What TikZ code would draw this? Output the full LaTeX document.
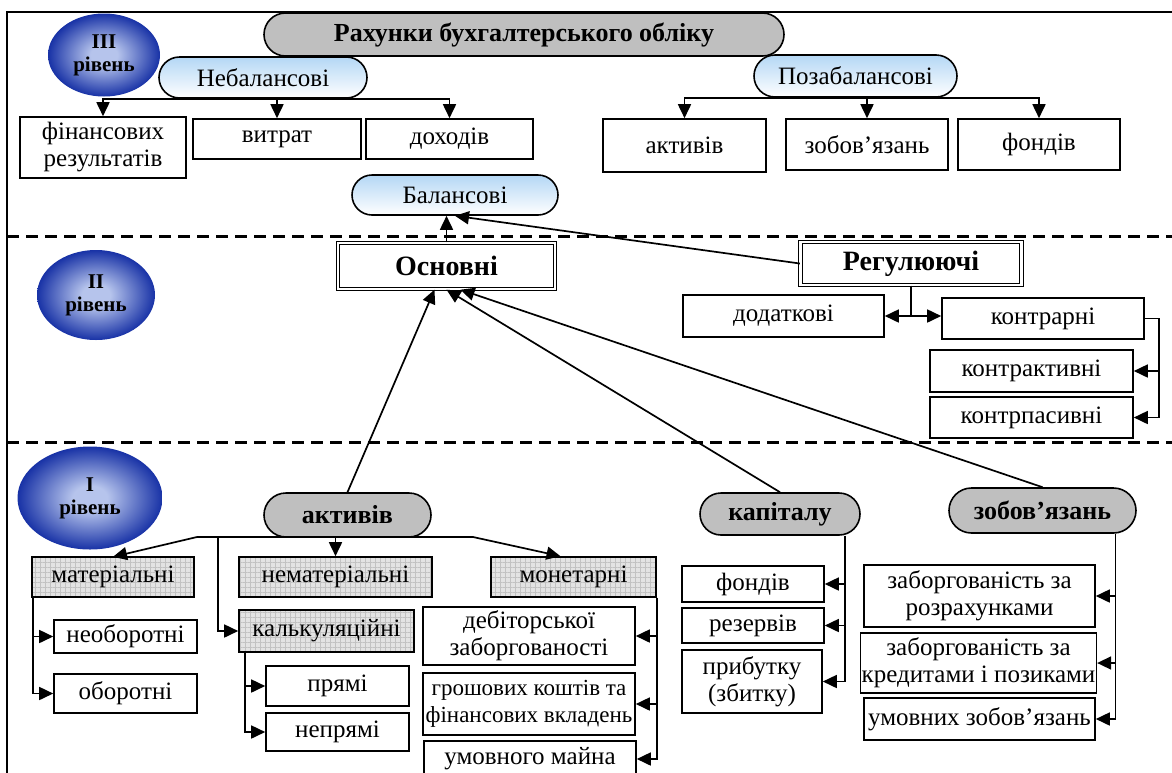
\documentclass[tikz,border=0pt]{standalone}
\usepackage{fontspec}
\setmainfont{Liberation Serif}
\usetikzlibrary{arrows.meta, shapes.misc, shapes.geometric, patterns.meta}

\definecolor{levelin}{RGB}{182,196,236}
\definecolor{levelout}{RGB}{24,50,166}
\definecolor{pillblue}{RGB}{180,215,245}
\pgfdeclareradialshading{levelshade}{\pgfpoint{0bp}{0bp}}{color(0bp)=(levelin); color(6bp)=(levelin); color(25bp)=(levelout); color(50bp)=(levelout)}

\begin{document}
\begin{tikzpicture}[x=1pt, y=-1pt,
    cell/.style={draw, line width=1.6pt, inner sep=1pt, align=center, font=\fontsize{25}{27}\selectfont},
    box/.style={cell, fill=white},
    gridbox/.style={cell, preaction={fill=black!11}, pattern={Hatch[angle=0, distance=5pt, line width=0.4pt]}, pattern color=black!24},
    pill/.style={rounded rectangle, draw, line width=1.6pt, inner sep=1pt},
    graypill/.style={pill, fill=black!25, font=\fontsize{26}{28}\selectfont\bfseries},
    bluepill/.style={pill, top color=pillblue, bottom color=white, font=\fontsize{25}{27}\selectfont},
    dblbox/.style={draw, double, double distance=2.2pt, line width=1.3pt, fill=white, font=\fontsize{28}{30}\selectfont\bfseries},
    level/.style={ellipse, inner sep=0pt, shading=levelshade, align=center, font=\fontsize{21}{23}\selectfont\bfseries},
    link/.style={line width=1.7pt},
    arr/.style={link, -{Triangle[length=14pt, width=13pt]}},
    sep/.style={line width=3pt, dash pattern=on 12pt off 7pt},
]
\path[use as bounding box, clip] (0,0) rectangle (1172,772);

% Frame
\draw[line width=1.6pt] (1180,12) -- (7,12) -- (7,790);

% --- LEVEL III ---
\node[graypill, minimum width=522, minimum height=43] (rahunky) at (524,34.5) {Рахунки бухгалтерського обліку};
\node[bluepill, minimum width=210, minimum height=41] (nebal) at (263,77.5) {Небалансові};
\node[bluepill, minimum width=205, minimum height=42] (pozabal) at (855.5,76) {Позабалансові};
\node[level, minimum width=112, minimum height=83] (lev3) at (104,55) {III\\рівень};

\node[box, minimum width=166, minimum height=61] (finres) at (103,147.5) {фінансових\\результатів};
\node[box, minimum width=168, minimum height=40] (vytrat) at (277,139) {витрат};
\node[box, minimum width=167, minimum height=40] (dokhod) at (449.5,139) {доходів};
\node[box, minimum width=163, minimum height=53] (aktpoz) at (684.5,145.5) {активів};
\node[box, minimum width=162, minimum height=51] (zobpoz) at (867,144.5) {зобов’язань};
\node[box, minimum width=162, minimum height=51] (fondpoz) at (1039,144.5) {фондів};
\node[bluepill, minimum width=208, minimum height=40] (balans) at (455,195) {Балансові};

\draw[arr] (nebal.south) -| (finres.north);
\draw[arr] (nebal.south) -| (vytrat.north);
\draw[arr] (nebal.south) -| (dokhod.north);
\draw[arr] (pozabal.south) -| (aktpoz.north);
\draw[arr] (pozabal.south) -| (zobpoz.north);
\draw[arr] (pozabal.south) -| (fondpoz.north);

\draw[sep] (7,236) -- (1172,236);

% --- LEVEL II ---
\node[level, minimum width=118, minimum height=90] (lev2) at (96,295) {II\\рівень};
\node[dblbox, minimum width=217, minimum height=46] (osnov) at (446.5,266) {Основні};
\node[dblbox, minimum width=221, minimum height=43] (regul) at (911,263.5) {Регулюючі};
\node[box, minimum width=201, minimum height=42] (dodatk) at (783.5,316) {додаткові};
\node[box, minimum width=202, minimum height=41] (kontrar) at (1043,318.5) {контрарні};
\node[box, minimum width=203, minimum height=42] (kontrakt) at (1031.5,371) {контрактивні};
\node[box, minimum width=203, minimum height=41] (kontrpas) at (1031.5,417.5) {контрпасивні};

\draw[arr] (osnov.north) -- (osnov.north |- balans.south);
\draw[arr] (regul.west) -- (balans.south);
\draw[link] (regul.south) -- (regul.south |- dodatk.east);
\draw[link, {Triangle[length=14pt, width=13pt]}-{Triangle[length=14pt, width=13pt]}] (dodatk.east) -- (kontrar.west |- dodatk.east);
\draw[arr] (kontrar.east) -- ++(14,0) |- (kontrakt.east);
\draw[arr] (kontrar.east) -- ++(14,0) |- (kontrpas.east);

\draw[sep] (7,442) -- (1172,442);

% --- LEVEL I ---
\node[level, minimum width=145, minimum height=103] (lev1) at (90,498) {I\\рівень};
\node[graypill, minimum width=169, minimum height=44] (aktyv) at (347.5,515) {активів};
\node[graypill, minimum width=162, minimum height=42] (kapital) at (780,514) {капіталу};
\node[graypill, minimum width=189, minimum height=45] (zobov) at (1042.5,510.5) {зобов’язань};

\draw[arr] (aktyv.north) -- ([xshift=-12]osnov.south);
\draw[arr] (kapital.north) -- (osnov.south);
\draw[arr] (zobov.north) -- ([xshift=14]osnov.south);

% assets
\node[gridbox, minimum width=162, minimum height=40] (matr) at (113,577) {матеріальні};
\node[gridbox, minimum width=193, minimum height=40] (nemat) at (335.5,577) {нематеріальні};
\node[gridbox, minimum width=165, minimum height=40] (monet) at (573.5,577) {монетарні};
\node[gridbox, minimum width=175, minimum height=42] (kalk) at (326.5,631) {калькуляційні};
\node[box, minimum width=143, minimum height=33] (neob) at (125.5,636.5) {необоротні};
\node[box, minimum width=143, minimum height=39] (obor) at (125.5,693.5) {оборотні};
\node[box, minimum width=143, minimum height=40] (pryami) at (337.5,686) {прямі};
\node[box, minimum width=143, minimum height=38] (nepryami) at (337.5,732) {непрямі};
\node[box, minimum width=212, minimum height=58] (debit) at (529,636) {дебіторської\\заборгованості};
\node[box, minimum width=212, minimum height=62, font=\fontsize{23}{27}\selectfont] (groshi) at (529,704) {грошових коштів та\\фінансових вкладень};
\node[box, minimum width=212, minimum height=36] (umovm) at (530,759) {умовного майна};

\coordinate (aL) at (197,537);
\coordinate (aK) at (218,537);
\coordinate (aR) at (473,537);
\draw[link] (aL) -- (aR);
\draw[arr] (aL) -- (matr.north);
\draw[arr] (aR) -- ([xshift=-13]monet.north);
\draw[arr] (aktyv.south -| nemat.north) -- (nemat.north);
\draw[arr] (aK) |- (kalk.west);
\draw[arr] ([xshift=1]matr.south west) |- (neob.west);
\draw[arr] ([xshift=1]matr.south west) |- (obor.west);
\draw[arr] ([xshift=7]kalk.south west) |- (pryami.west);
\draw[arr] ([xshift=7]kalk.south west) |- (nepryami.west);
\draw[arr] (monet.south east) |- (debit.east);
\draw[arr] (monet.south east) |- (groshi.east);
\draw[arr] (monet.south east) |- (umovm.east);

% capital
\node[box, minimum width=142, minimum height=36] (fond2) at (753,584) {фондів};
\node[box, minimum width=142, minimum height=35] (rezerv) at (753,625.5) {резервів};
\node[box, minimum width=140, minimum height=63] (prybut) at (752,681.5) {прибутку\\(збитку)};
\coordinate (kB) at ([xshift=65]kapital.south);
\draw[arr] (kB) |- (fond2.east);
\draw[arr] (kB) |- (rezerv.east);
\draw[arr] (kB) |- (prybut.east);

% liabilities
\node[box, minimum width=231, minimum height=62] (zrozr) at (979.5,596) {заборгованість за\\розрахунками};
\node[box, minimum width=233, minimum height=60] (zkred) at (978.5,663) {заборгованість за\\кредитами і позиками};
\node[box, minimum width=231, minimum height=42] (zumov) at (979.5,719) {умовних зобов’язань};
\coordinate (zB) at ([xshift=73]zobov.south);
\draw[arr] (zB) |- (zrozr.east);
\draw[arr] (zB) |- (zkred.east);
\draw[arr] (zB) |- (zumov.east);

\end{tikzpicture}
\end{document}
